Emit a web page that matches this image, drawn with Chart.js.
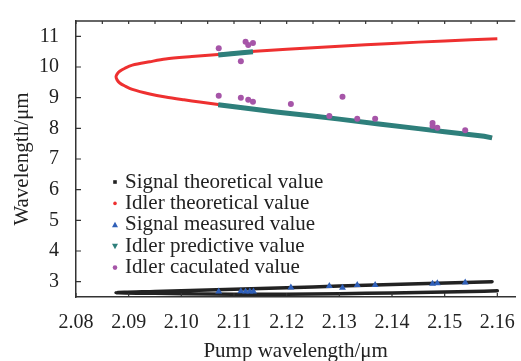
<!DOCTYPE html>
<html><head><meta charset="utf-8">
<script src="https://cdn.jsdelivr.net/npm/chart.js@4.4.0/dist/chart.umd.min.js"></script>
<style>html,body{margin:0;padding:0;background:#fff}#wrap{width:521px;height:361px;position:relative}</style>
</head><body><div id="wrap"><canvas id="c"></canvas></div>
<script>
// ---------- data ----------
const xTitle = "Pump wavelength/\u03bcm";
const yTitle = "Wavelength/\u03bcm";
const legendLabels = ["Signal theoretical value","Idler theoretical value","Signal measured value","Idler predictive value","Idler caculated value"];
const xTickValues = [2.08,2.09,2.10,2.11,2.12,2.13,2.14,2.15,2.16];
const yTickValues = [3,4,5,6,7,8,9,10,11];

const signalTheoPump = [2.160,2.155,2.145,2.135,2.125,2.115,2.105,2.095,2.0876,2.095,2.105,2.115,2.125,2.135,2.145,2.159];
const signalTheoWl   = [2.70,2.68,2.65,2.62,2.60,2.59,2.60,2.62,2.64,2.68,2.73,2.78,2.83,2.88,2.93,3.00];

const idlerTheoPump = [2.160,2.150,2.140,2.130,2.120,2.114,2.107,2.102,2.097,2.094,2.0907,2.0893,2.0883,2.0878,2.0876,2.0878,2.0883,2.0893,2.0907,2.094,2.097,2.1005,2.1035,2.107,2.112,2.118,2.125,2.130,2.1375,2.145,2.150,2.1575,2.159];
const idlerTheoWl   = [10.92,10.85,10.77,10.68,10.58,10.51,10.41,10.34,10.26,10.17,10.06,9.96,9.86,9.77,9.68,9.58,9.48,9.38,9.27,9.12,9.02,8.93,8.86,8.78,8.66,8.53,8.40,8.30,8.14,7.99,7.89,7.74,7.69];

const signalMeasPump = [2.1071,2.1113,2.1122,2.1130,2.1137,2.1208,2.1281,2.1306,2.1334,2.1368,2.1477,2.1486,2.1539];
const signalMeasWl   = [2.68,2.69,2.68,2.68,2.68,2.81,2.86,2.80,2.89,2.89,2.93,2.95,2.97];

const idlerPredLowPump = [2.107,2.112,2.118,2.125,2.130,2.1375,2.145,2.150,2.1575,2.159];
const idlerPredLowWl   = [8.77,8.66,8.53,8.40,8.30,8.14,7.99,7.89,7.74,7.69];
const idlerPredUpPump  = [2.107,2.1105,2.1136];
const idlerPredUpWl    = [10.39,10.45,10.50];

const idlerCalcPump = [2.1071,2.1122,2.1127,2.1136,2.1113,2.1071,2.1113,2.1127,2.1136,2.1208,2.1306,2.1281,2.1334,2.1368,2.1477,2.1477,2.1486,2.1539];
const idlerCalcWl   = [10.61,10.82,10.72,10.78,10.19,9.06,9.00,8.93,8.87,8.79,9.03,8.40,8.31,8.31,8.17,8.08,8.02,7.94];

// ---------- styles ----------
const FONT = "'Liberation Serif','Times New Roman',serif";
const C_BLACK = '#222222', C_RED = '#ee3030', C_BLUE = '#2f5fb8', C_TEAL = '#2e7f7b', C_PURPLE = '#a655a8';
const AX = '#333333';
const toPts = (xs, ys) => xs.map((x, i) => ({x: x, y: ys[i]}));

const tickPlugin = {
  id: 'inwardTicks',
  afterDraw(chart) {
    const {ctx, chartArea: ca, scales} = chart;
    const xs = scales.x, ys = scales.y;
    ctx.save();
    ctx.strokeStyle = AX; ctx.lineWidth = 1.2;
    ctx.beginPath();
    xTickValues.forEach(v => { const px = xs.getPixelForValue(v); ctx.moveTo(px, ca.bottom); ctx.lineTo(px, ca.bottom - 4); });
    yTickValues.forEach(v => { const py = ys.getPixelForValue(v); ctx.moveTo(ca.left, py); ctx.lineTo(ca.left + 5, py); });
    for (let k = 0; k <= 16; k++) {
      const v = 2.08 + k * 0.005; const px = xs.getPixelForValue(v);
      ctx.moveTo(px, ca.top); ctx.lineTo(px, ca.top + 3);
    }
    ctx.stroke();
    ctx.lineWidth = 1.5;
    ctx.beginPath(); ctx.moveTo(ca.left, ca.top); ctx.lineTo(ca.right, ca.top); ctx.stroke();
    ctx.restore();
  }
};

const legendPlugin = {
  id: 'insideLegend',
  afterDraw(chart) {
    const {ctx, chartArea: ca} = chart;
    ctx.save();
    ctx.font = '21px ' + FONT;
    ctx.textBaseline = 'middle';
    ctx.textAlign = 'left';
    legendLabels.forEach((t, i) => {
      const y = ca.top + 161 + i * 21.4;
      const mx = ca.left + 39;
      if (i === 0) { ctx.fillStyle = C_BLACK; ctx.fillRect(mx - 1.8, y - 1.8, 3.6, 3.6); }
      if (i === 1) { ctx.fillStyle = C_RED; ctx.beginPath(); ctx.arc(mx, y, 1.8, 0, Math.PI * 2); ctx.fill(); }
      if (i === 2) { ctx.fillStyle = C_BLUE; ctx.beginPath(); ctx.moveTo(mx, y - 3); ctx.lineTo(mx + 3, y + 2.5); ctx.lineTo(mx - 3, y + 2.5); ctx.closePath(); ctx.fill(); }
      if (i === 3) { ctx.fillStyle = C_TEAL; ctx.beginPath(); ctx.moveTo(mx, y + 3); ctx.lineTo(mx + 3, y - 2.5); ctx.lineTo(mx - 3, y - 2.5); ctx.closePath(); ctx.fill(); }
      if (i === 4) { ctx.fillStyle = C_PURPLE; ctx.beginPath(); ctx.arc(mx, y, 2.3, 0, Math.PI * 2); ctx.fill(); }
      ctx.fillStyle = C_BLACK;
      ctx.fillText(t, ca.left + 49, y);
    });
    ctx.restore();
  }
};

new Chart(document.getElementById('c'), {
  type: 'scatter',
  data: {
    datasets: [
      {label: legendLabels[4], data: toPts(idlerCalcPump, idlerCalcWl), showLine: false, pointRadius: 3, pointBackgroundColor: C_PURPLE, pointBorderWidth: 0, order: 0},
      {label: legendLabels[2], data: toPts(signalMeasPump, signalMeasWl), showLine: false, pointStyle: 'triangle', pointRadius: 4, pointBackgroundColor: C_BLUE, pointBorderWidth: 0, order: 1},
      {label: legendLabels[3], data: toPts(idlerPredLowPump, idlerPredLowWl), showLine: true, borderColor: C_TEAL, borderWidth: 5, pointRadius: 0, borderCapStyle: 'butt', order: 2},
      {label: legendLabels[3] + ' upper', data: toPts(idlerPredUpPump, idlerPredUpWl), showLine: true, borderColor: C_TEAL, borderWidth: 5, pointRadius: 0, order: 3},
      {label: legendLabels[1], data: toPts(idlerTheoPump, idlerTheoWl), showLine: true, borderColor: C_RED, borderWidth: 3, pointRadius: 0, tension: 0.3, order: 4},
      {label: legendLabels[0], data: toPts(signalTheoPump, signalTheoWl), showLine: true, borderColor: C_BLACK, borderWidth: 3.5, pointRadius: 0, tension: 0.3, borderCapStyle: 'round', order: 5}
    ]
  },
  options: {
    animation: false, responsive: true, maintainAspectRatio: false,
    layout: {padding: {top: 11, right: 0, left: 0, bottom: 0}},
    plugins: {legend: {display: false}, tooltip: {enabled: false}},
    scales: {
      x: {
        type: 'linear', min: 2.08, max: 2.1634,
        grid: {display: false},
        border: {display: true, color: AX, width: 1.5},
        afterBuildTicks: s => { s.ticks = xTickValues.map(v => ({value: v})); },
        ticks: {autoSkip: false, maxRotation: 0, padding: 6, color: C_BLACK,
                font: {family: FONT, size: 20}, callback: v => Number(v).toFixed(2)},
        title: {display: true, text: xTitle, color: C_BLACK, font: {family: FONT, size: 21, lineHeight: 0.9}, padding: {top: 0, bottom: 0}},
        afterFit: s => { s.height = 64; }
      },
      y: {
        type: 'linear', min: 2.5, max: 11.5,
        grid: {display: false},
        border: {display: true, color: AX, width: 1.5},
        afterBuildTicks: s => { s.ticks = yTickValues.map(v => ({value: v})); },
        ticks: {autoSkip: false, padding: 9, color: C_BLACK, font: {family: FONT, size: 20}},
        title: {display: true, text: yTitle, color: C_BLACK, font: {family: FONT, size: 21, lineHeight: 1.2}, padding: {top: 10, bottom: 0}},
        afterFit: s => { s.width = 76; }
      }
    }
  },
  plugins: [tickPlugin, legendPlugin]
});
</script></body></html>
